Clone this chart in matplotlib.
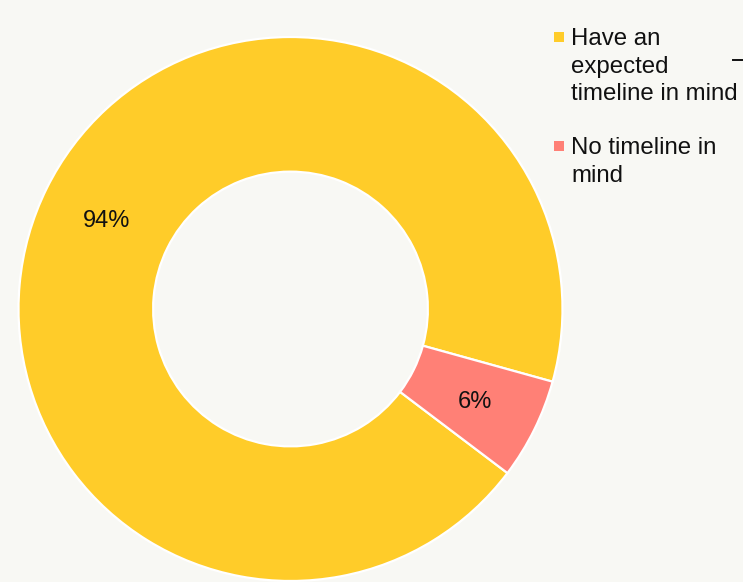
import matplotlib.pyplot as plt
from matplotlib.patches import Rectangle

plt.rcParams["font.family"] = ["Liberation Sans", "DejaVu Sans"]

labels = ["Have an\nexpected\ntimeline in mind", "No timeline in\nmind"]
shares = [94, 6]
colors = ["#FFCC29", "#FF8076"]

BG = "#F8F8F4"
W, H = 743, 582

fig = plt.figure(figsize=(W / 100, H / 100), dpi=100, facecolor=BG)
ax = fig.add_axes([0, 0, 1, 1])
ax.set_facecolor(BG)

# donut drawn in pixel-like data units (y up)
cx, cy, r = 290.5, H - 309, 272
wedges, texts = ax.pie(
    shares,
    colors=colors,
    startangle=-15.5,
    counterclock=True,
    center=(cx, cy),
    radius=r,
    labels=[f"{v}%" for v in shares],
    labeldistance=0.755,
    wedgeprops=dict(width=r * 0.495, edgecolor="white", linewidth=1.6),
    textprops=dict(fontsize=17, color="#111111", ha="center", va="center_baseline"),
)

ax.set_xlim(0, W)
ax.set_ylim(0, H)
ax.set_aspect("equal")
ax.axis("off")

# legend with squares aligned to the first line of each label
legend_tops = [28, 137]
for lab, col, top in zip(labels, colors, legend_tops):
    ax.add_patch(Rectangle((554, H - top - 14), 10, 10, facecolor=col, edgecolor="none"))
    ax.text(571, H - top, lab, fontsize=17.3, color="#111111", ha="left", va="top",
            linespacing=1.33)

ax.plot([733, 743], [H - 60, H - 60], color="#111111", linewidth=1.4, clip_on=False)

fig.savefig("out.png", dpi=100, facecolor=BG)
